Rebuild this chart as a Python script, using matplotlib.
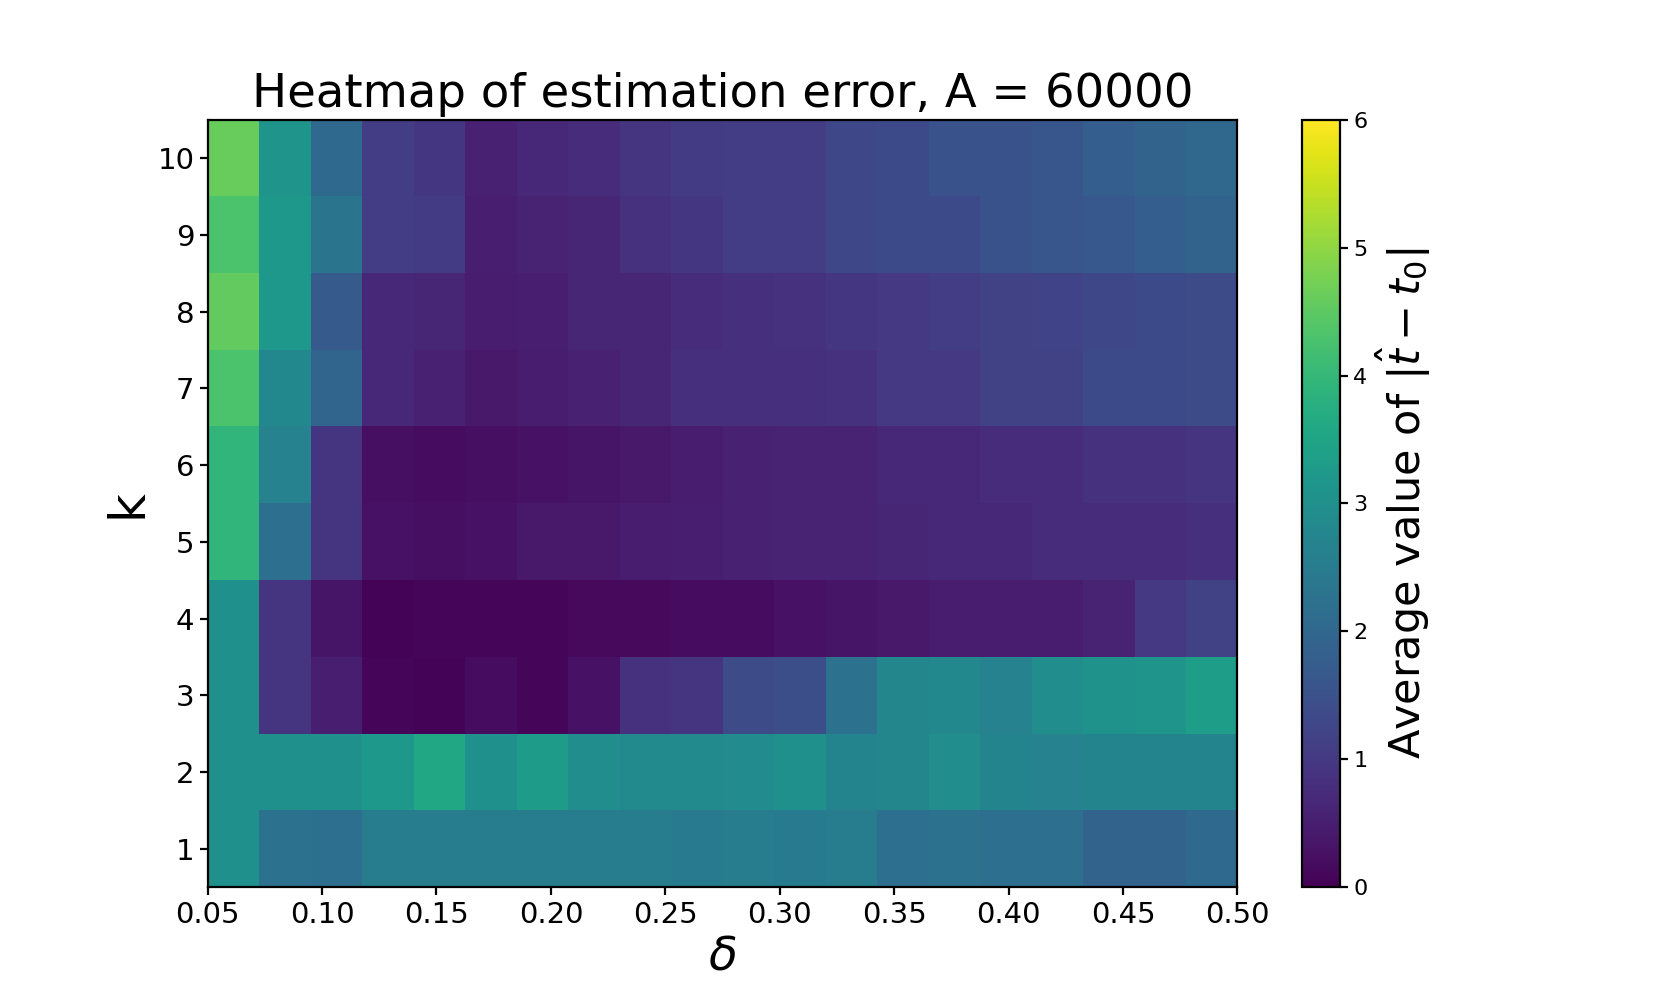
import numpy as np
import matplotlib
matplotlib.use("Agg")
import matplotlib.pyplot as plt

deltas = [0.05, 0.075, 0.10, 0.125, 0.15, 0.175, 0.20, 0.225, 0.25, 0.275,
          0.30, 0.325, 0.35, 0.375, 0.40, 0.425, 0.45, 0.475, 0.50, 0.525]
ks = [1, 2, 3, 4, 5, 6, 7, 8, 9, 10]

row_k1 = [3.0, 2.25, 2.2, 2.55, 2.55, 2.55, 2.55, 2.55, 2.55, 2.45,
          2.55, 2.45, 2.55, 2.2, 2.25, 2.2, 2.2, 1.9, 1.9, 2.05]
row_k2 = [3.0, 3.0, 3.0, 3.2, 3.6, 3.0, 3.3, 2.95, 2.85, 2.85,
          2.9, 3.0, 2.7, 2.75, 2.95, 2.7, 2.65, 2.7, 2.7, 2.7]
row_k3 = [3.0, 0.9, 0.5, 0.1, 0.05, 0.2, 0.1, 0.3, 0.85, 0.9,
          1.4, 1.45, 2.25, 2.75, 2.8, 2.65, 2.95, 3.05, 3.1, 3.35]
row_k4 = [3.0, 0.9, 0.35, 0.05, 0.1, 0.1, 0.1, 0.15, 0.15, 0.2,
          0.2, 0.3, 0.35, 0.4, 0.45, 0.45, 0.45, 0.6, 1.0, 1.15]
row_k5 = [3.95, 2.2, 0.9, 0.3, 0.25, 0.3, 0.4, 0.4, 0.45, 0.5,
          0.55, 0.6, 0.6, 0.65, 0.7, 0.7, 0.75, 0.75, 0.75, 0.8]
row_k6 = [3.95, 2.65, 0.9, 0.25, 0.2, 0.25, 0.3, 0.35, 0.4, 0.45,
          0.55, 0.6, 0.6, 0.7, 0.7, 0.75, 0.75, 0.85, 0.85, 0.9]
row_k7 = [4.3, 2.8, 1.95, 0.7, 0.55, 0.4, 0.45, 0.55, 0.65, 0.8,
          0.8, 0.8, 0.85, 1.0, 1.0, 1.15, 1.15, 1.35, 1.35, 1.4]
row_k8 = [4.55, 3.2, 1.7, 0.7, 0.65, 0.45, 0.5, 0.65, 0.65, 0.75,
          0.8, 0.85, 0.95, 1.0, 1.1, 1.15, 1.2, 1.3, 1.35, 1.4]
row_k9 = [4.3, 3.2, 2.3, 1.1, 1.05, 0.5, 0.6, 0.65, 0.85, 0.95,
          1.1, 1.1, 1.3, 1.35, 1.35, 1.5, 1.6, 1.65, 1.8, 1.9]
row_k10 = [4.6, 3.1, 2.05, 1.1, 0.95, 0.55, 0.7, 0.75, 0.9, 1.05,
           1.1, 1.1, 1.3, 1.35, 1.5, 1.5, 1.6, 1.8, 1.9, 2.0]

xticks = [0.05, 0.10, 0.15, 0.20, 0.25, 0.30, 0.35, 0.40, 0.45, 0.50]
xtick_labels = ["0.05", "0.10", "0.15", "0.20", "0.25", "0.30", "0.35", "0.40", "0.45", "0.50"]
yticks = ks
title = "Heatmap of estimation error, A = 60000"
cbar_label = r"Average value of $|\hat{t} - t_0|$"

data = np.array([row_k1, row_k2, row_k3, row_k4, row_k5,
                 row_k6, row_k7, row_k8, row_k9, row_k10])

fig = plt.figure(figsize=(16.61, 9.97), dpi=100)
ax = fig.add_subplot(111)
im = ax.imshow(data, origin="lower", aspect="auto", cmap="viridis",
               vmin=0, vmax=6, interpolation="nearest",
               extent=[0.05, 0.50, min(ks) - 0.5, max(ks) + 0.5])
ax.set_xticks(xticks)
ax.set_xticklabels(xtick_labels)
ax.set_yticks(yticks)
ax.tick_params(axis="both", labelsize=21, width=1.6, length=6)
for s in ax.spines.values():
    s.set_linewidth(1.6)
ax.set_xlabel(r"$\delta$", fontsize=34)
ax.set_ylabel("k", fontsize=36)
ax.set_title(title, fontsize=33.5, pad=9)

cb = fig.colorbar(im, ax=ax)
cb.ax.tick_params(labelsize=16, width=1.6, length=6)
cb.outline.set_linewidth(1.6)
cb.set_label(cbar_label, fontsize=31)

fig.savefig("out.png", dpi=100)
